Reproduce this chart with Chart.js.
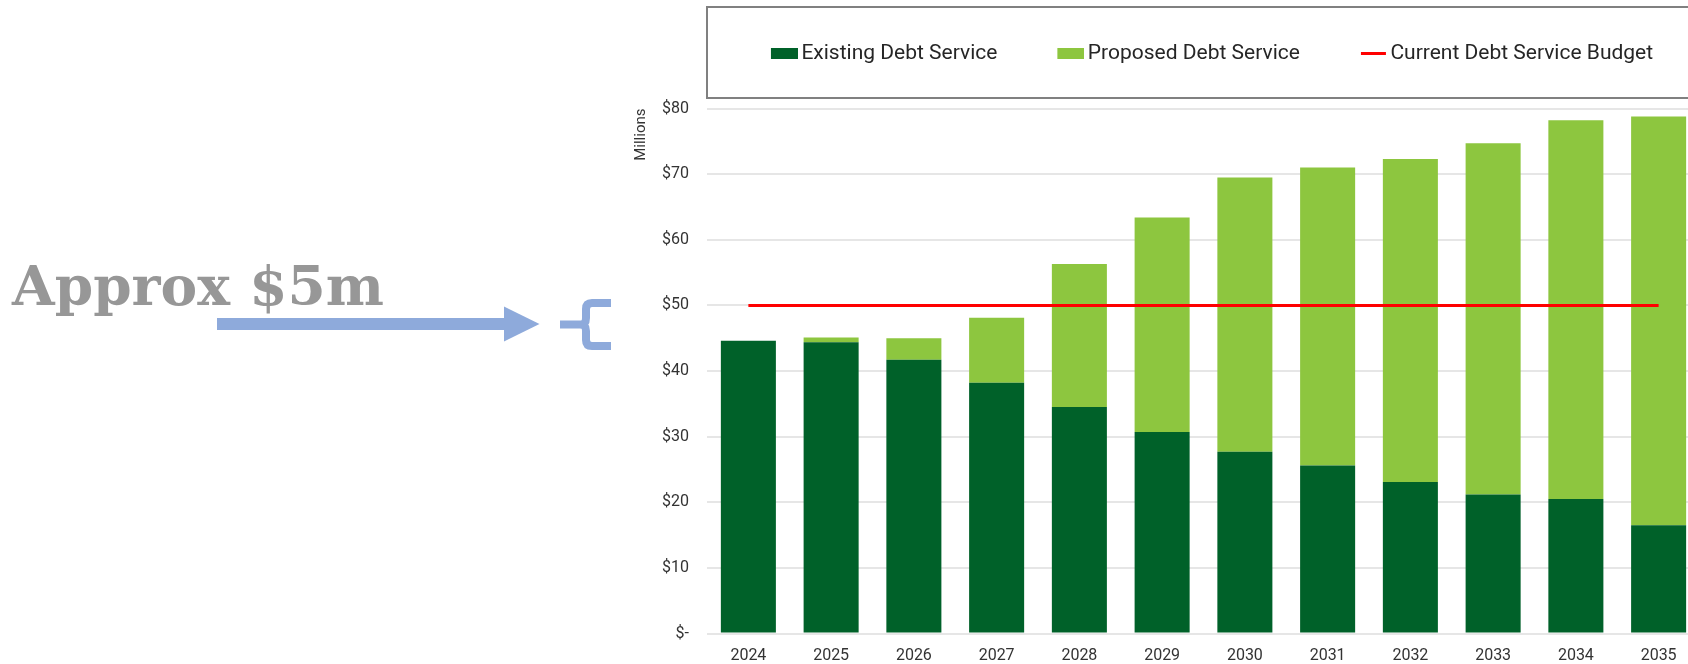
<!DOCTYPE html>
<html>
<head>
<meta charset="utf-8">
<script src="https://cdn.jsdelivr.net/npm/chart.js@4.4.1/dist/chart.umd.min.js"></script>
<style>
  html, body { margin: 0; padding: 0; background: #fff; }
  body { width: 1688px; height: 664px; overflow: hidden; position: relative; }
  #note { position: absolute; left: 0; top: 0; }
  #note text { filter: blur(0.5px); }
  #wrap { position: absolute; left: 620px; top: -15px; width: 1080px; height: 679px; }
</style>
</head>
<body>

<!-- annotation a gauche : texte + fleche + accolade -->
<svg id="note" width="620" height="664">
  <text x="12" y="305" font-family="DejaVu Serif" font-weight="bold" font-size="55" fill="#979797">Approx $5m</text>
  <rect x="217" y="318" width="288" height="12" fill="#8eaadb"></rect>
  <polygon points="504,306.5 539.5,324 504,341.5" fill="#8eaadb"></polygon>
  <path d="M 611 303 H 592 Q 586 303 586 309 V 318 Q 586 324.5 580 324.5 H 560 M 580 324.5 Q 586 324.5 586 331 V 340 Q 586 346 592 346 H 611"
        fill="none" stroke="#8eaadb" stroke-width="8"></path>
</svg>

<div id="wrap"><canvas id="graph"></canvas></div>

<script>
// donnees du graphe (millions $)
var annees = ["2024", "2025", "2026", "2027", "2028", "2029", "2030", "2031", "2032", "2033", "2034", "2035"];
var existant = [44.6, 44.4, 41.7, 38.2, 34.5, 30.7, 27.7, 25.6, 23.1, 21.2, 20.5, 16.5];
var propose = [0, 0.7, 3.3, 9.9, 21.8, 32.7, 41.8, 45.4, 49.2, 53.5, 57.7, 62.3];
var budget = [50, 50, 50, 50, 50, 50, 50, 50, 50, 50, 50, 50];
var yTicks = [0, 10, 20, 30, 40, 50, 60, 70, 80];

var vertFonce = "#006129";
var vertClair = "#8dc63f";
var rouge = "#ff0000";

// petites images pour les marqueurs de legende (carre ou trait)
// l'image deborde a gauche de 7px pour coller le texte au marqueur
function marqueur(couleur, trait) {
  var c = document.createElement("canvas");
  c.width = 34;
  c.height = 11;
  var g = c.getContext("2d");
  g.fillStyle = couleur;
  if (trait) {
    g.fillRect(8, 4, 25, 3);
  } else {
    g.fillRect(7, 0, 27, 11);
  }
  return c;
}

// legende : hauteur fixe, decalage, et cadre gris
const legendeHaute = {
  id: "legendeHaute",
  beforeInit(chart) {
    const fit = chart.legend.fit;
    chart.legend.fit = function () {
      fit.bind(chart.legend)();
      this.height = 123.5;
    };
  },
  afterLayout(chart) {
    chart.legend.top = -2;
    chart.legend.left += 52;
    chart.legend.right += 52;
  },
  afterDraw(chart) {
    const ctx = chart.ctx;
    ctx.save();
    ctx.strokeStyle = "#808080";
    ctx.lineWidth = 2;
    ctx.strokeRect(chart.chartArea.left, 22, chart.width + 20, 91);
    ctx.restore();
  },
};

const ctx = document.getElementById("graph");
const myChart = new Chart(ctx, {
  type: "bar",
  data: {
    labels: annees,
    datasets: [
      {
        label: "Existing Debt Service",
        data: existant,
        backgroundColor: vertFonce,
        stack: "dette",
        order: 1,
      },
      {
        label: "Proposed Debt Service",
        data: propose,
        backgroundColor: vertClair,
        stack: "dette",
        order: 2,
      },
      {
        type: "line",
        label: "Current Debt Service Budget",
        data: budget,
        borderColor: rouge,
        backgroundColor: rouge,
        borderWidth: 3,
        pointRadius: 0,
        stack: "budget",
        order: 0,
      },
    ],
  },
  options: {
    responsive: true,
    maintainAspectRatio: false,
    animation: false,
    layout: { padding: 0 },
    datasets: {
      bar: { categoryPercentage: 1, barPercentage: 0.665 },
    },
    plugins: {
      tooltip: { enabled: false },
      legend: {
        position: "top",
        labels: {
          font: { family: "Roboto", size: 21 },
          color: "#262626",
          padding: 60,
          boxHeight: 11,
          usePointStyle: true,
          pointStyleWidth: 20,
          generateLabels(chart) {
            var items = Chart.defaults.plugins.legend.labels.generateLabels(chart);
            items.forEach((it) => {
              var ds = chart.data.datasets[it.datasetIndex];
              it.pointStyle = marqueur(ds.type === "line" ? ds.borderColor : ds.backgroundColor, ds.type === "line");
              it.lineWidth = 0;
            });
            // ordre des datasets : existant, propose, budget
            return items.sort((a, b) => a.datasetIndex - b.datasetIndex);
          },
        },
      },
    },
    scales: {
      x: {
        stacked: true,
        grid: { display: false },
        border: { display: false },
        ticks: {
          font: { family: "Roboto", size: 16 },
          color: "#333333",
          padding: 5,
        },
        afterFit(scale) {
          scale.height = 30.5;
        },
      },
      y: {
        stacked: true,
        min: 0,
        max: 80,
        afterBuildTicks(scale) {
          scale.ticks = yTicks.map((v) => ({ value: v }));
        },
        grid: { color: "#e6e6e6", lineWidth: 2, drawTicks: false },
        border: { display: false },
        ticks: {
          font: { family: "Roboto", size: 16 },
          color: "#333333",
          padding: 18,
          callback: (v) => (v === 0 ? "$-" : "$" + v),
        },
        title: {
          display: true,
          text: "Millions",
          align: "end",
          font: { family: "Roboto", size: 15 },
          color: "#333333",
          padding: { top: 12.5, bottom: 0 },
        },
        afterFit(scale) {
          scale.width = 87;
        },
      },
    },
  },
  plugins: [legendeHaute],
});
</script>
</body>
</html>
